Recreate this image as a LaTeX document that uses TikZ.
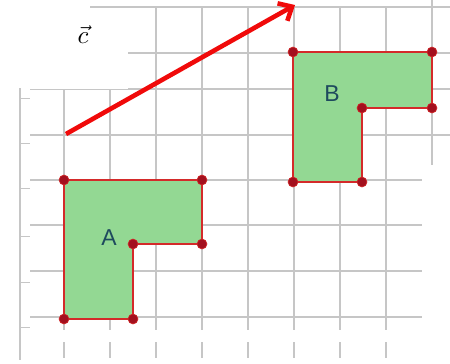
\documentclass[tikz,border=0pt]{standalone}
\usepackage{fontspec}
\setsansfont{Liberation Sans}
\usepackage{xcolor}
\usepackage{graphicx}
\usepackage{tikz}
\usetikzlibrary{arrows.meta}
\definecolor{ggrid}{HTML}{C6C6C6}
\definecolor{gfill}{HTML}{93D893}
\definecolor{gedge}{HTML}{D42A2A}
\definecolor{gdot}{HTML}{A3101E}
\definecolor{garrow}{HTML}{F00A0A}
\definecolor{glabel}{HTML}{1E4A5E}

\begin{document}
\begin{tikzpicture}[x=1pt,y=-1pt,every node/.style={font=\sffamily}]
  \useasboundingbox (0,0) rectangle (450,364);
  \tikzset{gridline/.style={ggrid,line width=1.8pt},
           figshape/.style={fill=gfill,draw=gedge,line width=2.8pt,line join=round},
           vdot/.style={fill=gdot,draw=gedge,line width=0.6pt}}

  % grid
  \foreach \y in {53,89,135} \draw[gridline] (30,\y) -- (450,\y);
  \foreach \y in {180,225,271,317} \draw[gridline] (30,\y) -- (422,\y);
  \foreach \x in {64,110,156,202,248,294,340,386} {
    \draw[gridline] (\x,7) -- (\x,330);
    \draw[gridline] (\x,342) -- (\x,358);
  }
  \draw[gridline] (432,0) -- (432,165);
  \fill[white] (0,0) rectangle (128,89);
  \draw[gridline] (90,7) -- (450,7);
  \draw[gridline] (20,88) -- (20,360);
  \foreach \y in {98,143,188,236,282,327} \draw[ggrid,line width=0.8pt] (20,\y) -- (30,\y);

  % figure A
  \coordinate (A1) at (64,180);  \coordinate (A2) at (202,180);
  \coordinate (A3) at (202,244); \coordinate (A4) at (133,244);
  \coordinate (A5) at (133,319); \coordinate (A6) at (64,319);
  \draw[figshape] (A1) -- (A2) -- (A3) -- (A4) -- (A5) -- (A6) -- cycle;
  \foreach \p in {A1,A2,A3,A4,A5,A6} \fill[vdot] (\p) circle (5pt);
  \node[text=glabel,font=\sffamily\fontsize{23}{23}\selectfont] (labA) at (109,238) {A};

  % figure B
  \coordinate (B1) at (293,52);  \coordinate (B2) at (432,52);
  \coordinate (B3) at (432,108); \coordinate (B4) at (362,108);
  \coordinate (B5) at (362,182); \coordinate (B6) at (293,182);
  \draw[figshape] (B1) -- (B2) -- (B3) -- (B4) -- (B5) -- (B6) -- cycle;
  \foreach \p in {B1,B2,B3,B4,B5,B6} \fill[vdot] (\p) circle (5pt);
  \node[text=glabel,font=\sffamily\fontsize{23}{23}\selectfont] (labB) at (332,94) {B};

  % vector c
  \coordinate (c0) at (66,134);
  \coordinate (c1) at (295,5);
  \draw[garrow,line width=4.6pt,-{Straight Barb[length=11pt,width=20pt]}] (c0) -- (c1);
  \node (labc) at (83,35) {\scalebox{2.5}{$\vec{c}$}};
\end{tikzpicture}
\end{document}
